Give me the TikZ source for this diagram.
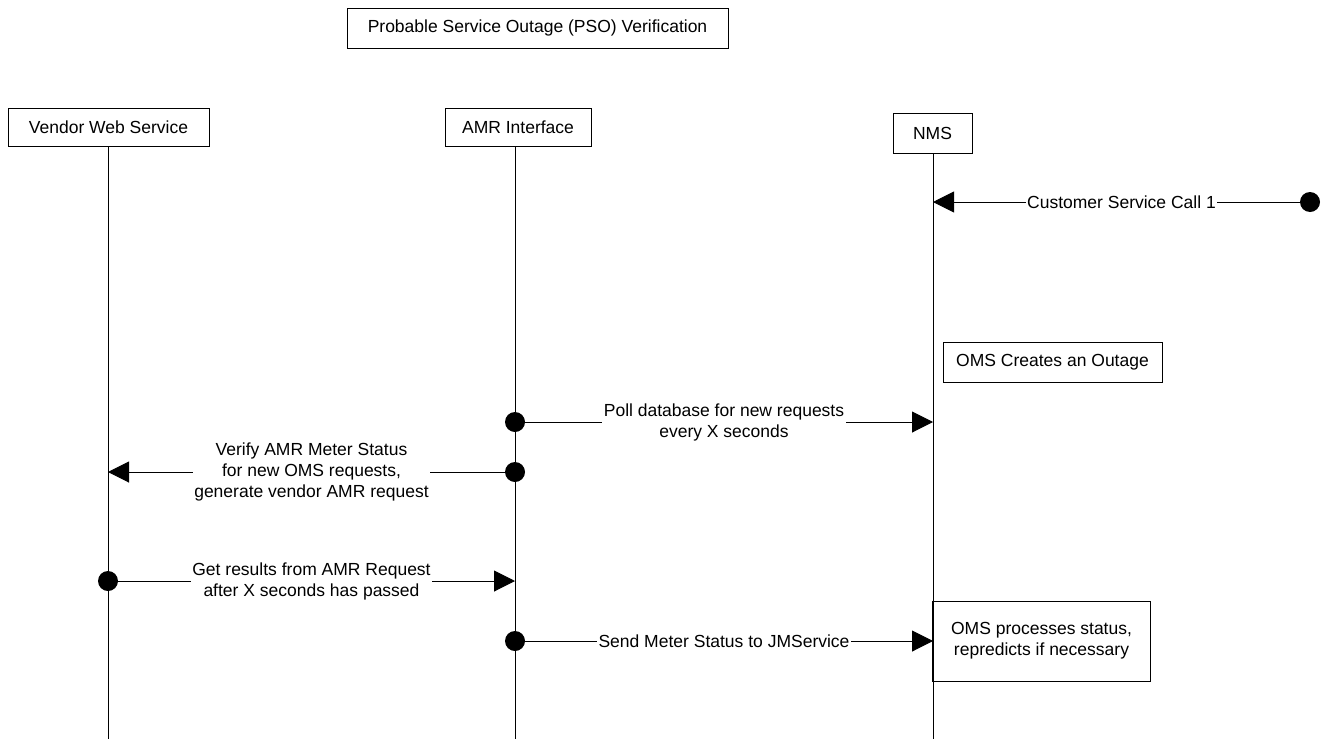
\documentclass[tikz,border=0pt]{standalone}
\usepackage{fontspec}
\setmainfont{Liberation Sans}
\usetikzlibrary{arrows.meta}
\begin{document}
\begin{tikzpicture}[x=1pt,y=-1pt,
  font=\fontsize{17.5}{21}\selectfont,
  box/.style={draw, line width=1pt, inner sep=0pt, align=center},
  life/.style={line width=1pt},
  msg/.style={line width=1pt, -{Triangle[length=21pt,width=21pt]}},
  lbl/.style={fill=white, inner sep=1.5pt, align=center},
  dot/.style={circle, fill=black, inner sep=0pt, minimum size=20pt},
]
\useasboundingbox (0,0) rectangle (1332,739);

% title
\node[box, minimum width=381pt, minimum height=40pt] (title) at (537.5,28) {Probable Service Outage (PSO) Verification};

% participants
\node[box, minimum width=201pt, minimum height=38pt] (vendor) at (108.5,127) {Vendor Web Service};
\node[box, minimum width=146pt, minimum height=38pt] (amr) at (518,127) {AMR Interface};
\node[box, minimum width=79pt, minimum height=40pt] (nms) at (932.5,133) {NMS};

% lifeline ends
\coordinate (vendorEnd) at (108,739);
\coordinate (amrEnd) at (515,739);
\coordinate (nmsEnd) at (933,739);

\draw[life] (vendor.south -| vendorEnd) -- (vendorEnd);
\draw[life] (amr.south -| amrEnd) -- (amrEnd);
\draw[life] (nms.south -| nmsEnd) -- (nmsEnd);

% activity boxes
\node[box, fill=white, minimum width=219pt, minimum height=40pt] (create) at (1052.5,362) {OMS Creates an Outage};
\node[box, fill=white, minimum width=217pt, minimum height=80pt] (process) at (1041.5,641) {OMS processes status,\\repredicts if necessary};
\draw[life] (process.north west) -- (process.south west);

% message points
\coordinate (cscStart) at (1310,202);
\coordinate (cscEnd) at (933,202);
\coordinate (pollStart) at (515,422);
\coordinate (pollEnd) at (933,422);
\coordinate (verStart) at (515,472);
\coordinate (verEnd) at (108,472);
\coordinate (getStart) at (108,581);
\coordinate (getEnd) at (515,581);
\coordinate (sendStart) at (515,641);
\coordinate (sendEnd) at (933,641);

\draw[msg] (cscStart) -- node[lbl] (cscLbl) {Customer Service Call 1} (cscEnd);
\draw[msg] (pollStart) -- node[lbl] (pollLbl) {Poll database for new requests\\every X seconds} (pollEnd);
\draw[msg] (verStart) -- node[lbl] (verLbl) {Verify AMR Meter Status\\for new OMS requests,\\generate vendor AMR request} (verEnd);
\draw[msg] (getStart) -- node[lbl] (getLbl) {Get results from AMR Request\\after X seconds has passed} (getEnd);
\draw[msg] (sendStart) -- node[lbl] (sendLbl) {Send Meter Status to JMService} (sendEnd);

% dots
\node[dot] (cscDot) at (cscStart) {};
\node[dot] (pollDot) at (pollStart) {};
\node[dot] (verDot) at (verStart) {};
\node[dot] (getDot) at (getStart) {};
\node[dot] (sendDot) at (sendStart) {};
\end{tikzpicture}
\end{document}
